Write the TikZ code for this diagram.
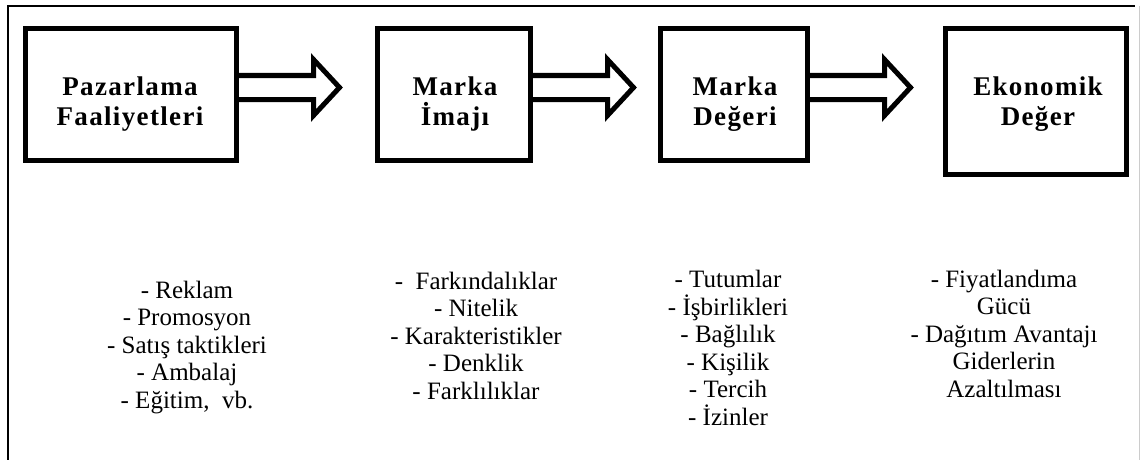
\documentclass[tikz,border=0pt]{standalone}
\usepackage{fontspec}
\setmainfont{Liberation Serif}
\newfontfamily\titlefont{Liberation Serif}[LetterSpace=5]
\usetikzlibrary{calc}

\tikzset{
  box/.style={draw=black, line width=5pt, inner sep=0pt, outer sep=0pt, fill=white},
  title/.style={align=center, anchor=base, inner sep=0pt,
    font=\titlefont\bfseries\fontsize{27}{30}\selectfont},
  items/.style={align=center, anchor=base, inner sep=0pt,
    font=\fontsize{25}{27.5}\selectfont},
  arrowline/.style={draw=black, line width=5pt, line join=miter, miter limit=10},
  frame/.style={draw=black, line width=2.5pt},
}

% hollow block arrow leaving the right side of a box
\newcommand\blockarrow[1]{%
  \draw[arrowline] ([yshift=19pt]#1.east) -- ++(77,0) -- ++(0,-16)
    -- ++(26,28) -- ++(-26,28) -- ++(0,-16) -- ++(-77,0);}

\begin{document}
\begin{tikzpicture}[x=1pt, y=-1pt]
  \useasboundingbox (0,0) rectangle (1140,460);

  % outer frame
  \draw[frame] (8,460) -- (8,6) -- (1135,6);
  \draw[black!20, line width=1pt] (1139,6) -- (1139,460);

  % boxes
  \node[box, minimum width=211pt, minimum height=132pt] (b1) at (131,94.5) {};
  \node[box, minimum width=153pt, minimum height=132pt] (b2) at (454,94.5) {};
  \node[box, minimum width=147pt, minimum height=132pt] (b3) at (734,94.5) {};
  \node[box, minimum width=181pt, minimum height=146pt] (b4) at (1036,101.5) {};

  % arrows between the boxes
  \blockarrow{b1}
  \blockarrow{b2}
  \blockarrow{b3}

  % box titles (anchored on the baseline of their last line)
  \node[title] (t1) at (130,125) {Pazarlama\\Faaliyetleri};
  \node[title] (t2) at (455,125) {Marka\\İmajı};
  \node[title] (t3) at (735,125) {Marka\\Değeri};
  \node[title] (t4) at (1038,125) {Ekonomik\\Değer};

  % item lists (anchored on the baseline of their last line)
  \node[items] (l1) at (187,408) {- Reklam\\- Promosyon\\- Satış taktikleri\\- Ambalaj\\- Eğitim, \ vb.};
  \node[items] (l2) at (476,399) {- \ Farkındalıklar\\- Nitelik\\- Karakteristikler\\- Denklik\\- Farklılıklar};
  \node[items] (l3) at (728,425) {- Tutumlar\\- İşbirlikleri\\- Bağlılık\\- Kişilik\\- Tercih\\- İzinler};
  \node[items] (l4) at (1004,397) {- Fiyatlandıma\\Gücü\\- Dağıtım Avantajı\\Giderlerin\\Azaltılması};
\end{tikzpicture}
\end{document}
